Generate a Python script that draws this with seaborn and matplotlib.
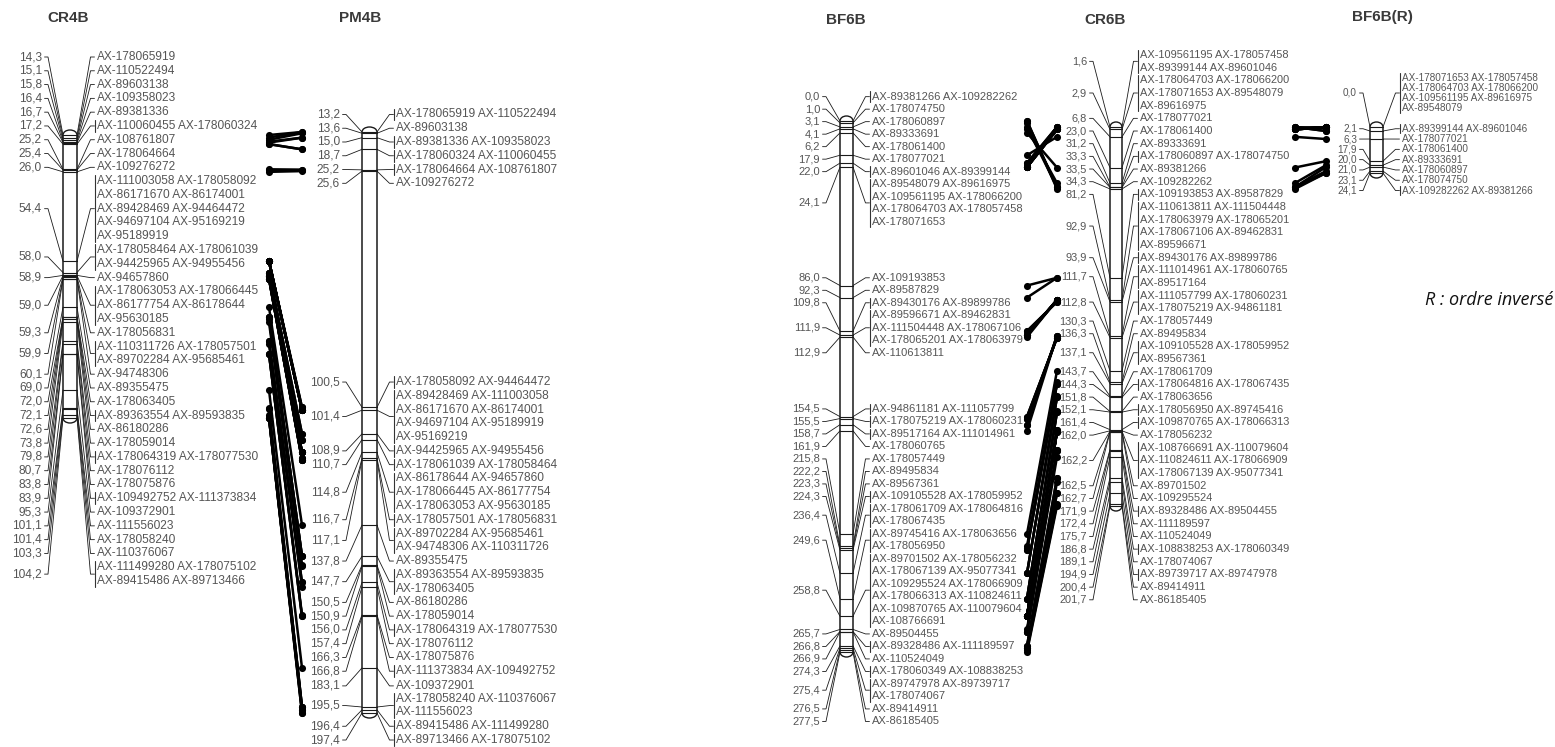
import numpy as np
import pandas as pd
import matplotlib
matplotlib.use("Agg")
import matplotlib.pyplot as plt
import seaborn as sns
from matplotlib.patches import Arc

# ---------------------------------------------------------------- data
CR4B_POS = [14.3, 15.1, 15.8, 16.4, 16.7, 17.2, 25.2, 25.4, 26.0, 54.4, 58.0, 58.9, 59.0, 59.3,
            59.9, 60.1, 69.0, 72.0, 72.1, 72.6, 73.8, 79.8, 80.7, 83.8, 83.9, 95.3, 101.1, 101.4,
            103.3, 104.2]
CR4B_MARKERS = [
    ["AX-178065919"], ["AX-110522494"], ["AX-89603138"], ["AX-109358023"], ["AX-89381336"],
    ["AX-110060455", "AX-178060324"], ["AX-108761807"], ["AX-178064664"], ["AX-109276272"],
    ["AX-111003058", "AX-178058092", "AX-86171670", "AX-86174001", "AX-89428469", "AX-94464472",
     "AX-94697104", "AX-95169219", "AX-95189919"],
    ["AX-178058464", "AX-178061039", "AX-94425965", "AX-94955456"],
    ["AX-94657860"],
    ["AX-178063053", "AX-178066445", "AX-86177754", "AX-86178644", "AX-95630185"],
    ["AX-178056831"],
    ["AX-110311726", "AX-178057501", "AX-89702284", "AX-95685461"],
    ["AX-94748306"], ["AX-89355475"], ["AX-178063405"], ["AX-89363554", "AX-89593835"],
    ["AX-86180286"], ["AX-178059014"], ["AX-178064319", "AX-178077530"], ["AX-178076112"],
    ["AX-178075876"], ["AX-109492752", "AX-111373834"], ["AX-109372901"], ["AX-111556023"],
    ["AX-178058240"], ["AX-110376067"],
    ["AX-111499280", "AX-178075102", "AX-89415486", "AX-89713466"],
]

PM4B_POS = [13.2, 13.6, 15.0, 18.7, 25.2, 25.6, 100.5, 101.4, 108.9, 110.7, 114.8, 116.7, 117.1,
            137.8, 147.7, 150.5, 150.9, 156.0, 157.4, 166.3, 166.8, 183.1, 195.5, 196.4, 197.4]
PM4B_MARKERS = [
    ["AX-178065919", "AX-110522494"], ["AX-89603138"], ["AX-89381336", "AX-109358023"],
    ["AX-178060324", "AX-110060455"], ["AX-178064664", "AX-108761807"], ["AX-109276272"],
    ["AX-178058092", "AX-94464472"],
    ["AX-89428469", "AX-111003058", "AX-86171670", "AX-86174001", "AX-94697104", "AX-95189919",
     "AX-95169219"],
    ["AX-94425965", "AX-94955456"], ["AX-178061039", "AX-178058464"],
    ["AX-86178644", "AX-94657860", "AX-178066445", "AX-86177754", "AX-178063053", "AX-95630185"],
    ["AX-178057501", "AX-178056831"],
    ["AX-89702284", "AX-95685461", "AX-94748306", "AX-110311726"],
    ["AX-89355475"], ["AX-89363554", "AX-89593835", "AX-178063405"], ["AX-86180286"],
    ["AX-178059014"], ["AX-178064319", "AX-178077530"], ["AX-178076112"], ["AX-178075876"],
    ["AX-111373834", "AX-109492752"], ["AX-109372901"],
    ["AX-178058240", "AX-110376067", "AX-111556023"], ["AX-89415486", "AX-111499280"],
    ["AX-89713466", "AX-178075102"],
]

BF6B_POS = [0.0, 1.0, 3.1, 4.1, 6.2, 17.9, 22.0, 24.1, 86.0, 92.3, 109.8, 111.9, 112.9, 154.5,
            155.5, 158.7, 161.9, 215.8, 222.2, 223.3, 224.3, 236.4, 249.6, 258.8, 265.7, 266.8,
            266.9, 274.3, 275.4, 276.5, 277.5]
BF6B_MARKERS = [
    ["AX-89381266", "AX-109282262"], ["AX-178074750"], ["AX-178060897"], ["AX-89333691"],
    ["AX-178061400"], ["AX-178077021"], ["AX-89601046", "AX-89399144"],
    ["AX-89548079", "AX-89616975", "AX-109561195", "AX-178066200", "AX-178064703",
     "AX-178057458", "AX-178071653"],
    ["AX-109193853"], ["AX-89587829"], ["AX-89430176", "AX-89899786"],
    ["AX-89596671", "AX-89462831", "AX-111504448", "AX-178067106", "AX-178065201",
     "AX-178063979"],
    ["AX-110613811"], ["AX-94861181", "AX-111057799"], ["AX-178075219", "AX-178060231"],
    ["AX-89517164", "AX-111014961"], ["AX-178060765"], ["AX-178057449"], ["AX-89495834"],
    ["AX-89567361"], ["AX-109105528", "AX-178059952"],
    ["AX-178061709", "AX-178064816", "AX-178067435"],
    ["AX-89745416", "AX-178063656", "AX-178056950"],
    ["AX-89701502", "AX-178056232", "AX-178067139", "AX-95077341", "AX-109295524",
     "AX-178066909", "AX-178066313", "AX-110824611", "AX-109870765", "AX-110079604",
     "AX-108766691"],
    ["AX-89504455"], ["AX-89328486", "AX-111189597"], ["AX-110524049"],
    ["AX-178060349", "AX-108838253"], ["AX-89747978", "AX-89739717", "AX-178074067"],
    ["AX-89414911"], ["AX-86185405"],
]

CR6B_POS = [1.6, 2.9, 6.8, 23.0, 31.2, 33.3, 33.5, 34.3, 81.2, 92.9, 93.9, 111.7, 112.8, 130.3,
            136.3, 137.1, 143.7, 144.3, 151.8, 152.1, 161.4, 162.0, 162.2, 162.5, 162.7, 171.9,
            172.4, 175.7, 186.8, 189.1, 194.9, 200.4, 201.7]
CR6B_MARKERS = [
    ["AX-109561195", "AX-178057458", "AX-89399144", "AX-89601046"],
    ["AX-178064703", "AX-178066200", "AX-178071653", "AX-89548079", "AX-89616975"],
    ["AX-178077021"], ["AX-178061400"], ["AX-89333691"], ["AX-178060897", "AX-178074750"],
    ["AX-89381266"], ["AX-109282262"], ["AX-109193853", "AX-89587829"],
    ["AX-110613811", "AX-111504448", "AX-178063979", "AX-178065201", "AX-178067106",
     "AX-89462831", "AX-89596671"],
    ["AX-89430176", "AX-89899786"], ["AX-111014961", "AX-178060765", "AX-89517164"],
    ["AX-111057799", "AX-178060231", "AX-178075219", "AX-94861181"],
    ["AX-178057449"], ["AX-89495834"], ["AX-109105528", "AX-178059952", "AX-89567361"],
    ["AX-178061709"], ["AX-178064816", "AX-178067435"], ["AX-178063656"],
    ["AX-178056950", "AX-89745416"], ["AX-109870765", "AX-178066313"], ["AX-178056232"],
    ["AX-108766691", "AX-110079604", "AX-110824611", "AX-178066909", "AX-178067139",
     "AX-95077341"],
    ["AX-89701502"], ["AX-109295524"], ["AX-89328486", "AX-89504455"], ["AX-111189597"],
    ["AX-110524049"], ["AX-108838253", "AX-178060349"], ["AX-178074067"],
    ["AX-89739717", "AX-89747978"], ["AX-89414911"], ["AX-86185405"],
]

BF6BR_POS = [0.0, 2.1, 6.3, 17.9, 20.0, 21.0, 23.1, 24.1]
BF6BR_MARKERS = [
    ["AX-178071653", "AX-178057458", "AX-178064703", "AX-178066200", "AX-109561195",
     "AX-89616975", "AX-89548079"],
    ["AX-89399144", "AX-89601046"], ["AX-178077021"], ["AX-178061400"], ["AX-89333691"],
    ["AX-178060897"], ["AX-178074750"], ["AX-109282262", "AX-89381266"],
]

MAPS = {
    "CR4B": (CR4B_POS, CR4B_MARKERS),
    "PM4B": (PM4B_POS, PM4B_MARKERS),
    "BF6B": (BF6B_POS, BF6B_MARKERS),
    "CR6B": (CR6B_POS, CR6B_MARKERS),
    "BF6B(R)": (BF6BR_POS, BF6BR_MARKERS),
}
NOTE = "R : ordre inversé"

# ---------------------------------------------------------------- layout (pixels)
LAYOUT = {
    "CR4B": dict(ytop=135, ybot=418, bar_x=63, bar_w=14, lab_r=42, txt_x=97, lh=13.79,
                 fs=8.6, ymin=57, shift={}, pad={}, title=(68, 18)),
    "PM4B": dict(ytop=132, ybot=713, bar_x=362, bar_w=15, lab_r=340, txt_x=396, lh=13.77,
                 fs=8.6, ymin=57, shift={1: 37, 2: 18, 3: 14}, pad={}, title=(360, 18)),
    "BF6B": dict(ytop=121, ybot=652, bar_x=840, bar_w=13, lab_r=820, txt_x=872, lh=12.5,
                 fs=8.0, ymin=57, shift={0: 3, 1: -7, 2: 5, 3: -12}, pad={}, title=(846, 20)),
    "CR6B": dict(ytop=127, ybot=506, bar_x=1110, bar_w=12, lab_r=1087, txt_x=1140, lh=12.67,
                 fs=7.9, ymin=55, shift={}, pad={}, title=(1105, 20)),
    "BF6B(R)": dict(ytop=127, ybot=173, bar_x=1370, bar_w=13, lab_r=1357, txt_x=1402, lh=10.3,
                    fs=7.2, ymin=55, shift={0: -3}, pad={1: 10}, title=(1382, 17)),
}
LINKS = [("CR4B", "PM4B", 269, 302), ("BF6B", "CR6B", 1027, 1057),
         ("CR6B", "BF6B(R)", 1295, 1326)]

INK = "#1a1a1a"
TXT = "#555555"
W, H = 1555, 747

sns.set_style("white")
plt.rcParams["font.family"] = ["Liberation Sans", "DejaVu Sans"]

fig = plt.figure(figsize=(W / 100, H / 100), dpi=100)
ax = fig.add_axes([0, 0, 1, 1])


def ymap(L, pos, p):
    pmin, pmax = min(pos), max(pos)
    return L["ytop"] + (p - pmin) / (pmax - pmin) * (L["ybot"] - L["ytop"])


def place_labels(ydes, nlines, lh, ymin, shift, pad):
    clusters = [[i] for i in range(len(ydes))]

    def solve(cl):
        offs, acc = [], 0.0
        for k, i in enumerate(cl):
            if k > 0:
                acc += pad.get(i, 0)
            offs.append(acc + (nlines[i] - 1) / 2 * lh)
            acc += nlines[i] * lh
        return float(np.mean([ydes[i] - o for i, o in zip(cl, offs)])), acc

    while True:
        sol = [list(solve(cl)) for cl in clusters]
        sol[0][0] = max(sol[0][0], ymin)
        merged = False
        for k in range(len(clusters) - 1):
            if sol[k][0] + sol[k][1] > sol[k + 1][0] + 1e-6:
                clusters[k] = clusters[k] + clusters[k + 1]
                del clusters[k + 1]
                merged = True
                break
        if not merged:
            break
    line_y = [None] * len(ydes)
    centers = [None] * len(ydes)
    for k, cl in enumerate(clusters):
        y = sol[k][0] + shift.get(k, 0)
        for j, i in enumerate(cl):
            if j > 0:
                y += pad.get(i, 0)
            ys = [y + q * lh for q in range(nlines[i])]
            line_y[i] = ys
            centers[i] = float(np.mean(ys))
            y += nlines[i] * lh
    return line_y, centers


def fmt(p):
    return f"{p:.1f}".replace(".", ",")


POSMAP = {}
for name, (pos, mk) in MAPS.items():
    L = LAYOUT[name]
    yt = [ymap(L, pos, p) for p in pos]
    lines = [[" ".join(m[i:i + 2]) for i in range(0, len(m), 2)] for m in mk]
    nl = [len(l) for l in lines]
    line_y, centers = place_labels(yt, nl, L["lh"], L["ymin"], L["shift"], L["pad"])
    x0, w = L["bar_x"], L["bar_w"]
    ytop, ybot = L["ytop"], L["ybot"]
    cap = 5
    # chromosome bar
    ax.plot([x0, x0], [ytop, ybot], color=INK, lw=1.1, solid_capstyle="butt")
    ax.plot([x0 + w, x0 + w], [ytop, ybot], color=INK, lw=1.1, solid_capstyle="butt")
    ax.add_patch(Arc((x0 + w / 2, ytop), w, 2 * cap, theta1=180, theta2=360, color=INK, lw=1.0))
    ax.add_patch(Arc((x0 + w / 2, ybot), w, 2 * cap, theta1=0, theta2=180, color=INK, lw=1.0))
    tx, ty = L["title"]
    ax.text(tx, ty, name, ha="center", va="center", fontsize=11, fontweight="bold",
            color="#3a3a3a")
    xe = L["txt_x"] - 2.5
    lh = L["lh"]
    for i, p in enumerate(pos):
        cy = centers[i]
        ax.plot([x0, x0 + w], [yt[i], yt[i]], color=INK, lw=0.8)
        ax.text(L["lab_r"], cy, fmt(p), ha="right", va="center", fontsize=L["fs"], color=TXT)
        ax.plot([L["lab_r"] + 2.5, L["lab_r"] + 6, x0], [cy, cy, yt[i]], color=INK, lw=0.6)
        ax.plot([x0 + w, xe - 4, xe], [yt[i], cy, cy], color=INK, lw=0.6)
        if len(mk[i]) > 1:
            ax.plot([xe, xe], [line_y[i][0] - 0.42 * lh, line_y[i][-1] + 0.42 * lh],
                    color="#333333", lw=0.8)
        for t, ly in zip(lines[i], line_y[i]):
            ax.text(L["txt_x"], ly, t, ha="left", va="center", fontsize=L["fs"], color=TXT)
    POSMAP[name] = {m: ymap(L, pos, p) for p, ms in zip(pos, mk) for m in ms}

# homology links between neighbouring maps
rows = []
lid = 0
for a, b, xa, xb in LINKS:
    for m, ya in POSMAP[a].items():
        if m in POSMAP[b]:
            rows.append(dict(x=xa, y=ya, link=lid))
            rows.append(dict(x=xb, y=POSMAP[b][m], link=lid))
            lid += 1
links = pd.DataFrame(rows)
sns.lineplot(data=links, x="x", y="y", units="link", estimator=None, sort=False,
             color="black", lw=1.8, ax=ax, legend=False)
sns.scatterplot(data=links, x="x", y="y", color="black", s=26, linewidth=0, ax=ax,
                legend=False, zorder=5)

ax.text(1553, 300, NOTE, ha="right", va="center", fontsize=13, style="italic",
        family=["Open Sans", "DejaVu Sans"], color="#111111")

ax.set_xlim(0, W)
ax.set_ylim(H, 0)
ax.axis("off")
fig.savefig("out.png", dpi=100, facecolor="white")
